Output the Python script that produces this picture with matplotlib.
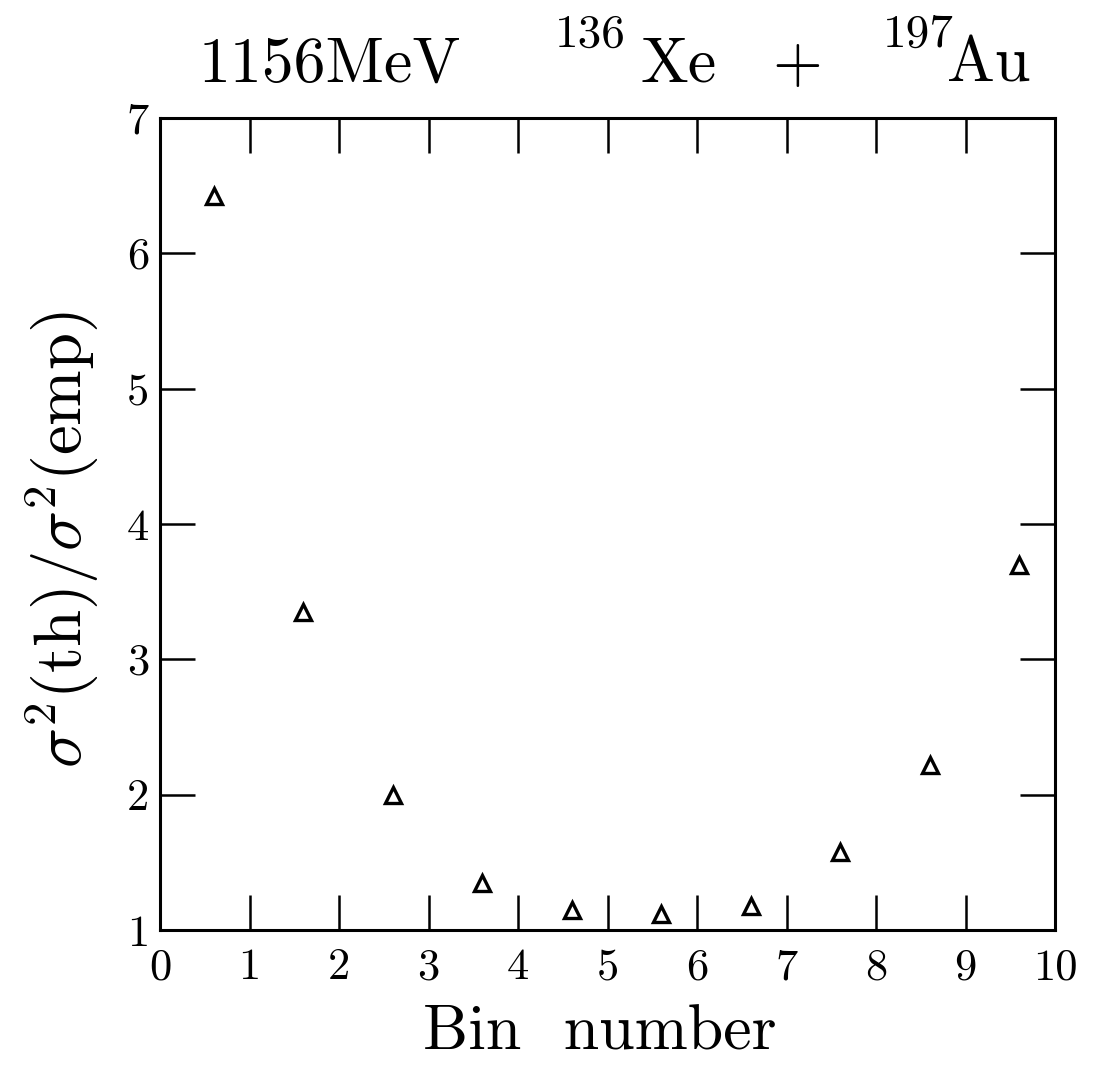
import matplotlib
matplotlib.use("Agg")
import matplotlib.pyplot as plt

# ---- data ----
bin_x = [0.6, 1.6, 2.6, 3.6, 4.6, 5.6, 6.6, 7.6, 8.6, 9.6]
ratio = [6.42, 3.35, 2.00, 1.35, 1.15, 1.12, 1.18, 1.58, 2.22, 3.70]
x_ticks = [0, 1, 2, 3, 4, 5, 6, 7, 8, 9, 10]
y_ticks = [1, 2, 3, 4, 5, 6, 7]

plt.rcParams['font.family'] = 'cmr10'
plt.rcParams['mathtext.fontset'] = 'cm'
plt.rcParams['axes.formatter.use_mathtext'] = True

W, H = 1100, 1065
fig = plt.figure(figsize=(W / 100, H / 100), dpi=100)
ax = fig.add_axes([160 / W, 1 - 930 / H, (1055 - 160) / W, (930 - 118) / H])

ax.plot(bin_x, ratio, linestyle='none', marker='^', markersize=12,
        markerfacecolor='white', markeredgecolor='black', markeredgewidth=2.4)

ax.set_xlim(0, 10)
ax.set_ylim(1, 7)
ax.set_xticks(x_ticks)
ax.set_yticks(y_ticks)
ax.set_xticklabels([str(t) for t in x_ticks])
ax.set_yticklabels([str(t) for t in y_ticks])
ax.tick_params(axis='both', which='major', direction='in', length=25, width=1.8,
               top=True, right=True, labelsize=32)
ax.tick_params(axis='x', pad=13)
ax.tick_params(axis='y', pad=8)
for s in ax.spines.values():
    s.set_linewidth(2.2)

def px(x, y):
    return x / W, 1 - y / H

# title pieces
fig.text(*px(198, 82), '1156MeV', fontsize=46, ha='left', va='baseline')
fig.text(*px(555, 47), '136', fontsize=34, ha='left', va='baseline')
fig.text(*px(640, 82), 'Xe', fontsize=46, ha='left', va='baseline')
fig.text(*px(797, 82), '+', fontsize=46, ha='center', va='baseline')
fig.text(*px(883, 47), '197', fontsize=34, ha='left', va='baseline')
fig.text(*px(947, 82), 'Au', fontsize=46, ha='left', va='baseline')

# axis labels
fig.text(*px(600, 1050), 'Bin  number', fontsize=46, ha='center', va='baseline')
fig.text(*px(62, 540), r'$\sigma^2$(th)/$\sigma^2$(emp)', fontsize=48,
         rotation=90, ha='center', va='center')

fig.savefig('out.png', dpi=100, facecolor='white')
